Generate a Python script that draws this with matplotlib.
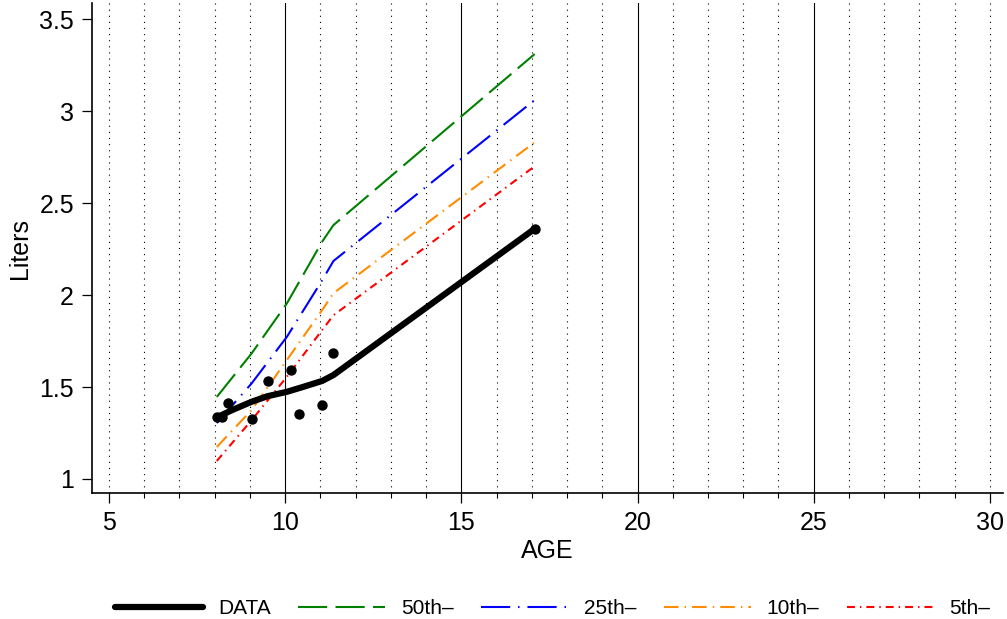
import matplotlib.pyplot as plt
from matplotlib.ticker import MultipleLocator

plt.rcParams['font.family'] = ['Liberation Sans', 'DejaVu Sans']

# observed values
obs_age = [8.06, 8.22, 8.39, 9.05, 9.51, 10.16, 10.40, 11.05, 11.35, 17.08]
obs_liters = [1.335, 1.335, 1.415, 1.325, 1.534, 1.592, 1.353, 1.402, 1.683, 2.36]

# smoothed data line
fit_age = [8.06, 8.5, 9.05, 9.5, 10.05, 10.5, 11.05, 11.37, 17.08]
fit_liters = [1.335, 1.375, 1.42, 1.45, 1.474, 1.50, 1.533, 1.565, 2.36]

# percentile curves
pct_age = [8.06, 9.05, 10.05, 11.05, 11.37, 17.08]
p50 = [1.446, 1.683, 1.955, 2.29, 2.38, 3.31]
p25 = [1.304, 1.52, 1.773, 2.08, 2.185, 3.06]
p10 = [1.174, 1.375, 1.647, 1.918, 2.01, 2.83]
p5 = [1.098, 1.32, 1.556, 1.81, 1.89, 2.70]

fig = plt.figure(figsize=(10.07, 6.19), dpi=100)
ax = fig.add_axes([0.0914, 0.2036, 0.9046, 0.7914])

# vertical grid: dotted every year, solid every 5 inside
for v in range(5, 31):
    if v in (10, 15, 20, 25):
        ax.axvline(v, color='black', lw=0.8, zorder=1)
    else:
        ax.axvline(v, color='black', lw=0.8, ls=(0, (1, 4.5)), zorder=1)

ax.plot(fit_age, fit_liters, color='black', lw=4.5, solid_capstyle='round',
        label='DATA', zorder=4)
ax.plot(pct_age, p50, color='green', lw=1.5, ls=(0, (14, 4)), label='50th\u2013', zorder=3)
ax.plot(pct_age, p25, color='blue', lw=1.5, ls=(0, (14, 3.8, 0.7, 3.8)), label='25th\u2013', zorder=3)
ax.plot(pct_age, p10, color='darkorange', lw=1.5, ls=(0, (7, 2.9, 0.7, 2.9)), label='10th\u2013', zorder=3)
ax.plot(pct_age, p5, color='red', lw=1.5, ls=(0, (3.8, 2.4, 0.7, 2.4)), label='5th\u2013', zorder=3)
ax.scatter(obs_age, obs_liters, s=42, color='black', zorder=5)

ax.set_xlim(4.52, 30.37)
ax.set_ylim(0.924, 3.587)
ax.xaxis.set_major_locator(MultipleLocator(5))
ax.xaxis.set_minor_locator(MultipleLocator(1))
ax.set_yticks([1, 1.5, 2, 2.5, 3, 3.5])
ax.set_yticklabels(['1', '1.5', '2', '2.5', '3', '3.5'])
ax.tick_params(which='major', direction='out', length=7, width=0.9, labelsize=18, pad=6)
ax.tick_params(which='minor', direction='out', length=3.5, width=0.8)

for s in ['top', 'right']:
    ax.spines[s].set_visible(False)
for s in ['left', 'bottom']:
    ax.spines[s].set_linewidth(1.2)

ax.set_xlabel('AGE', fontsize=18, labelpad=3)
ax.set_ylabel('Liters', fontsize=18, labelpad=5)

fig.legend(loc='lower center', bbox_to_anchor=(0.549, -0.029), ncol=5, frameon=False,
           fontsize=15, handlelength=4.2, handletextpad=0.75, columnspacing=1.3)

fig.savefig('out.png', dpi=100)
